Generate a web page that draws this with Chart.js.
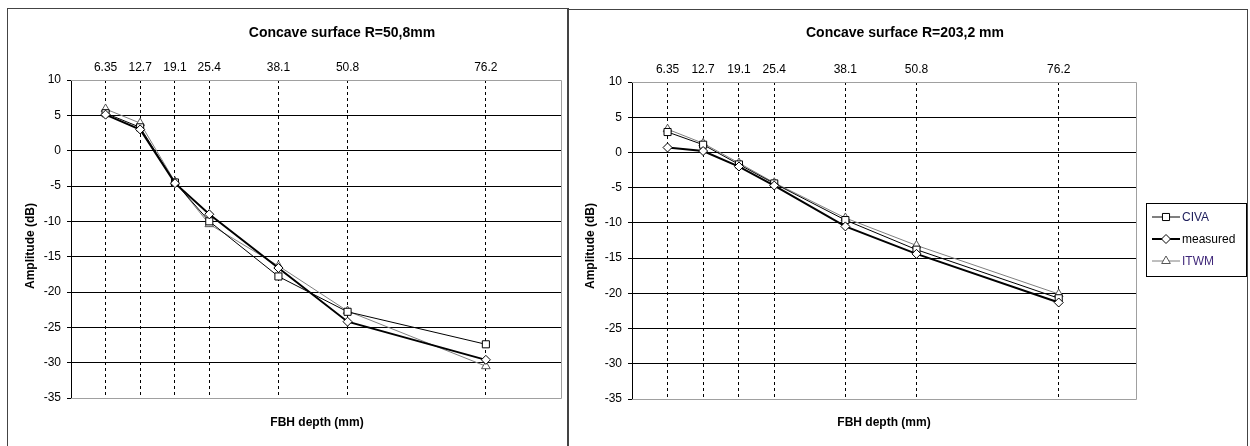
<!DOCTYPE html>
<html>
<head>
<meta charset="utf-8">
<title>Concave surface - FBH amplitude</title>
<script src="https://cdn.jsdelivr.net/npm/chart.js"></script>
<style>
  body { margin: 0; background: #fff; width: 1250px; height: 446px; overflow: hidden; position: relative;
         font-family: "Liberation Sans", Arial, sans-serif; color: #000; }
  .panel { position: absolute; border: 1px solid #444; }
  canvas { position: absolute; top: 0; }
  .title { position: absolute; font-weight: bold; font-size: 14px; transform: translateX(-50%); white-space: nowrap; }
  .xtitle { position: absolute; font-weight: bold; font-size: 12px; transform: translateX(-50%); white-space: nowrap; }
  .ytitle { position: absolute; font-weight: bold; font-size: 12px; transform: translate(-50%, -50%) rotate(-90deg); white-space: nowrap; }
</style>
</head>
<body>
<div class="panel" style="left:7px; top:8px; width:560px; height:460px;"></div>
<div class="panel" style="left:567px; top:9px; width:679px; height:460px;"></div>

<canvas id="left" width="567" height="446" style="left:0px"></canvas>
<canvas id="right" width="683" height="446" style="left:567px"></canvas>

<div class="title" style="left:342px; top:24px;">Concave surface R=50,8mm</div>
<div class="title" style="left:905px; top:24px;">Concave surface R=203,2 mm</div>
<div class="xtitle" style="left:317px; top:415px;">FBH depth (mm)</div>
<div class="xtitle" style="left:884px; top:415px;">FBH depth (mm)</div>
<div class="ytitle" style="left:30px; top:246px;">Amplitude (dB)</div>
<div class="ytitle" style="left:590px; top:246px;">Amplitude (dB)</div>

<script>
// FBH depths (mm) and the labels shown on the top axis
const depths = [6.35, 12.7, 19.1, 25.4, 38.1, 50.8, 76.2];
const depthLabels = ['6.35', '12.7', '19.1', '25.4', '38.1', '50.8', '76.2'];

// amplitude (dB), concave surface R=50,8mm
const civa50 = [5.3, 3.3, -4.5, -10.0, -17.8, -22.8, -27.4];
const measured50 = [5.1, 3.0, -4.6, -9.0, -16.6, -24.2, -29.6];
const itwm50 = [5.9, 3.9, -4.4, -10.4, -16.3, -22.7, -30.5];

// amplitude (dB), concave surface R=203,2 mm
const civa203 = [2.9, 1.1, -1.7, -4.4, -9.6, -13.8, -20.7];
const measured203 = [0.7, 0.2, -2.0, -4.7, -10.5, -14.4, -21.3];
const itwm203 = [3.3, 1.3, -1.5, -4.3, -9.3, -13.2, -20.1];

const yMin = -35, yMax = 10, yStep = 5;
const xMin = 0, xMax = 90;

Chart.defaults.font.family = '"Liberation Sans", Arial, sans-serif';
Chart.defaults.font.size = 12;
Chart.defaults.color = '#000';

const toPoints = vals => depths.map((x, i) => ({ x: x, y: vals[i] }));

function makeDatasets(civa, measured, itwm) {
  return [
    { label: 'CIVA', data: toPoints(civa), borderColor: '#000', borderWidth: 1,
      pointStyle: 'rect', pointRadius: 5, order: 1, textColor: '#1c1c5a' },
    { label: 'measured', data: toPoints(measured), borderColor: '#000', borderWidth: 2,
      pointStyle: 'rectRot', pointRadius: 4.5, order: 0, textColor: '#000' },
    { label: 'ITWM', data: toPoints(itwm), borderColor: '#7f7f7f', borderWidth: 1,
      pointStyle: 'triangle', pointRadius: 5, order: 2, textColor: '#40287a' }
  ].map(d => Object.assign(d, {
    showLine: true, tension: 0, pointBackgroundColor: '#fff',
    pointBorderColor: d.label === 'ITWM' ? '#555' : '#000', pointBorderWidth: 1
  }));
}

// gray frame on top/right/bottom of the plot area + optional boxed legend
const frame = {
  id: 'frame',
  afterDraw(chart, args, opts) {
    const { ctx, chartArea: a } = chart;
    ctx.save();
    ctx.strokeStyle = '#a0a0a0';
    ctx.lineWidth = 1;
    ctx.beginPath();
    ctx.moveTo(a.left, Math.round(a.top) + 0.5);
    ctx.lineTo(Math.round(a.right) + 0.5, Math.round(a.top) + 0.5);
    ctx.lineTo(Math.round(a.right) + 0.5, Math.round(a.bottom) + 0.5);
    ctx.lineTo(a.left, Math.round(a.bottom) + 0.5);
    ctx.stroke();

    if (opts.legend) {
      const L = opts.legend;
      ctx.strokeStyle = '#000';
      ctx.strokeRect(L.x + 0.5, L.y + 0.5, L.w, L.h);
      ctx.font = '12px "Liberation Sans", Arial, sans-serif';
      ctx.textBaseline = 'middle';
      chart.data.datasets.forEach((ds, i) => {
        const y = L.rows[i];
        ctx.strokeStyle = ds.borderColor;
        ctx.lineWidth = ds.borderWidth;
        ctx.beginPath();
        ctx.moveTo(L.x + 6, y);
        ctx.lineTo(L.x + 34, y);
        ctx.stroke();
        ctx.fillStyle = '#fff';
        ctx.strokeStyle = ds.pointBorderColor;
        ctx.lineWidth = 1;
        Chart.helpers.drawPoint(ctx, { pointStyle: ds.pointStyle, radius: ds.pointRadius, borderWidth: 1, rotation: 0 }, L.x + 20, y);
        ctx.fillStyle = ds.textColor;
        ctx.fillText(ds.label, L.x + 36, y + 1);
      });
    }
    ctx.restore();
  }
};

function makeChart(id, datasets, box, legend) {
  const cv = document.getElementById(id);
  return new Chart(cv.getContext('2d'), {
    type: 'scatter',
    data: { datasets: datasets },
    options: {
      responsive: false,
      animation: false,
      layout: { padding: { left: 0, top: 0, right: cv.width - box.right, bottom: cv.height - box.bottom } },
      plugins: { legend: { display: false }, tooltip: { enabled: false }, frame: { legend: legend } },
      scales: {
        x: {
          type: 'linear', position: 'top', min: xMin, max: xMax,
          afterBuildTicks: s => { s.ticks = depths.map(v => ({ value: v })); },
          afterFit: s => { s.height = box.top; },
          ticks: { autoSkip: false, maxRotation: 0, padding: 5, font: { size: 12 },
                   callback: (v, i) => depthLabels[i] },
          grid: { color: '#000', lineWidth: 1, drawTicks: false },
          border: { display: false, dash: [3, 3] }
        },
        y: {
          type: 'linear', min: yMin, max: yMax,
          afterFit: s => { s.width = box.left; },
          ticks: { stepSize: yStep, padding: 6, font: { size: 12 } },
          grid: {
            color: c => (c.tick && (c.tick.value === yMax || c.tick.value === yMin)) ? '#a0a0a0' : '#000',
            tickColor: '#000', tickLength: 4, lineWidth: 1
          },
          border: { display: true, color: '#000', width: 1 }
        }
      }
    },
    plugins: [frame]
  });
}

makeChart('left', makeDatasets(civa50, measured50, itwm50),
  { left: 71, top: 80, right: 563, bottom: 398 }, null);

makeChart('right', makeDatasets(civa203, measured203, itwm203),
  { left: 65, top: 82, right: 569, bottom: 399 },
  { x: 579, y: 203, w: 100, h: 73, rows: [217, 239, 261] });
</script>
</body>
</html>
